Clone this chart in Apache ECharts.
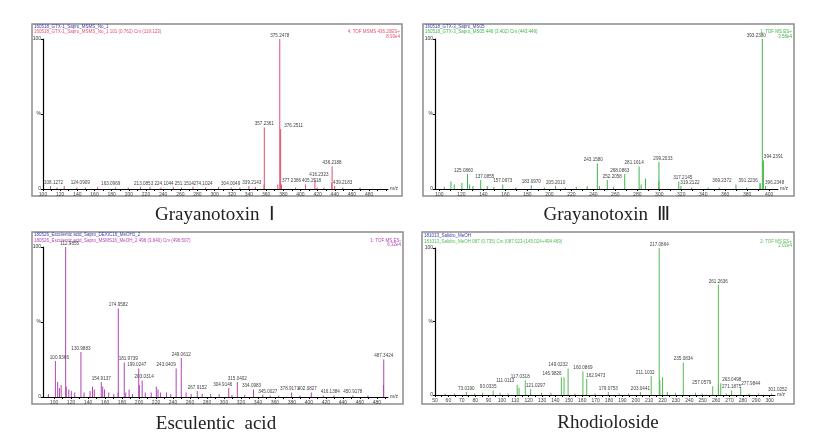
<!DOCTYPE html>
<html><head><meta charset="utf-8">
<script src="https://cdn.jsdelivr.net/npm/echarts@6/dist/echarts.min.js"></script>
<style>html,body{margin:0;padding:0;background:#fff}#c{width:831px;height:437px}</style>
</head><body><div id="c"></div>
<script>
// ---------- Data (m/z, relative intensity %) ----------
// Panel 1: Grayanotoxin I
const gtx1LabeledMz  = [108.1272, 124.0909, 163.0969, 213.0853, 224.1044, 251.1514, 274.1024, 304.0049, 339.2143, 357.2361, 375.2478, 376.2511, 377.2386, 405.2518, 416.2323, 436.2188, 439.2183];
const gtx1LabeledInt = [2, 2, 1.5, 1.5, 1.5, 1.5, 1.5, 1.5, 2, 41, 100, 40, 3, 3, 6, 15, 2];
const gtx1MinorMz    = [117, 140, 150, 185, 200, 238, 262, 290, 320, 330, 348, 358.2, 374.2, 378.5, 395, 420, 428, 437.2, 450, 470];
const gtx1MinorInt   = [1, 1, 1, 1, 1, 1, 1, 1, 1, 1, 1.5, 3, 3, 1.5, 1, 1, 1, 4, 1, 1];
const gtx1Ticks      = [100,120,140,160,180,200,220,240,260,280,300,320,340,360,380,400,420,440,460,480];

// Panel 2: Grayanotoxin III
const gtx3LabeledMz  = [125.0860, 137.0855, 157.0973, 183.0970, 205.2010, 243.1580, 252.2058, 268.0863, 281.1614, 299.2033, 317.2145, 319.2122, 369.2372, 391.2236, 393.2380, 394.2391, 396.2348];
const gtx3LabeledInt = [10, 6, 3, 2.5, 2, 17, 6, 10, 15, 18, 5, 2, 3, 3, 100, 19, 2];
const gtx3MinorMz    = [105, 111, 114, 121, 128, 131, 144, 150, 170, 196, 215, 225, 235, 246, 259, 284, 288, 300.2, 330, 345, 355, 380, 392.2];
const gtx3MinorInt   = [1.5, 5, 3, 4, 3, 2, 2, 1.5, 1, 1, 1, 1.5, 2, 2, 1.5, 3, 7, 5, 1, 1, 1, 1, 4];
const gtx3Ticks      = [100,120,140,160,180,200,220,240,260,280,300,320,340,360,380,400];

// Panel 3: Esculentic acid
const escLabeledMz   = [100.9366, 112.9855, 130.9883, 154.9137, 174.9582, 181.9739, 199.0247, 203.0314, 243.0409, 249.0612, 267.9152, 304.9146, 315.0402, 334.0983, 345.0027, 378.9171, 402.0827, 416.1384, 450.9178, 487.3424];
const escLabeledInt  = [24, 100, 30, 10, 59, 23, 19, 11, 19, 26, 4, 6, 10, 5, 1.5, 3, 3, 1, 1, 25];
const escMinorMz     = [94, 104.9, 107, 109, 115, 118, 121, 125, 136, 143, 145.9, 148, 157.9, 160, 165, 171, 176, 185, 189, 193, 201, 208, 215, 221, 223, 226, 233, 238, 256, 262, 275, 285, 295, 310, 325, 355, 365, 390, 430, 470, 488.3];
const escMinorInt    = [2, 10, 6, 8, 7, 5, 4, 3, 3, 4, 7, 5, 7, 5, 3, 2, 3, 3, 5, 2, 8, 3, 3, 7, 5, 3, 3, 2, 3, 2, 2, 2, 2, 1.5, 1.5, 1, 1, 1, 1, 1, 8];
const escTicks       = [100,120,140,160,180,200,220,240,260,280,300,320,340,360,380,400,420,440,460,480];

// Panel 4: Rhodioloside
const rhoLabeledMz   = [73.0190, 93.0335, 111.0113, 117.0318, 121.0297, 145.9826, 149.0232, 160.0869, 162.9473, 179.0753, 203.0441, 211.1032, 217.0864, 235.0834, 257.0579, 261.2636, 263.0498, 271.1875, 277.9844, 301.0252];
const rhoLabeledInt  = [2, 3, 7, 10, 4, 12, 18, 16, 11, 2, 2, 13, 100, 22, 6, 75, 8, 3, 5, 1];
const rhoMinorMz     = [58, 65, 80, 86, 99, 105, 113.2, 130, 137, 144.8, 155, 170, 188, 195, 218.4, 220.4, 224, 230, 245, 250, 262.2, 268, 285, 292];
const rhoMinorInt    = [1, 1, 1, 1.5, 1.5, 1, 5, 1.5, 1.5, 12, 1, 1, 1, 1, 10, 12, 2, 1.5, 1.5, 1, 7, 1, 1, 1];
const rhoTicks       = [50,60,70,80,90,100,110,120,130,140,150,160,170,180,190,200,210,220,230,240,250,260,270,280,290,300];

const captions = ['Grayanotoxin  Ⅰ', 'Grayanotoxin  Ⅲ', 'Esculentic  acid', 'Rhodioloside'];

// ---------- Layout / style ----------
const panels = [
  {lm: gtx1LabeledMz, li: gtx1LabeledInt, mm: gtx1MinorMz, mi: gtx1MinorInt, ticks: gtx1Ticks,
   grid: {left: 43, top: 39, width: 345, height: 150}, min: 100, max: 502, color: '#e2506e',
   offsets: {0: [3, 0], 1: [16, 0], 2: [13, 0], 3: [3, 0], 4: [14, 0], 5: [11, 0], 6: [10, 0], 7: [12, 0], 8: [3, 0],
             11: [13, 0], 12: [10, 0], 13: [6, 0], 14: [4, -2], 16: [8, 0]}},
  {lm: gtx3LabeledMz, li: gtx3LabeledInt, mm: gtx3MinorMz, mi: gtx3MinorInt, ticks: gtx3Ticks,
   grid: {left: 435, top: 39, width: 343, height: 150}, min: 96, max: 408, color: '#3db54a',
   offsets: {0: [-4, 0], 1: [4, 0], 5: [-4, 0], 6: [5, 0], 7: [-5, 0], 8: [-5, 0], 9: [4, 0], 10: [4, 0], 11: [9, 0],
             12: [-14, 0], 13: [-12, 0], 14: [-6, 0], 15: [10, 0], 16: [9, 0]}},
  {lm: escLabeledMz, li: escLabeledInt, mm: escMinorMz, mi: escMinorInt, ticks: escTicks,
   grid: {left: 43, top: 247, width: 345, height: 150}, min: 87, max: 493, color: '#b345b3',
   offsets: {0: [4, 0], 1: [4, 0], 5: [4, 0], 6: [-2, 0], 7: [2, 0], 8: [-10, 0], 11: [-6, 0], 13: [-2, 0], 14: [5, 0],
             15: [-2, 0], 16: [-4, 0], 17: [7, 0]}},
  {lm: rhoLabeledMz, li: rhoLabeledInt, mm: rhoMinorMz, mi: rhoMinorInt, ticks: rhoTicks,
   grid: {left: 435, top: 248, width: 340, height: 147}, min: 50, max: 304, color: '#55bb55',
   offsets: {1: [-5, 0], 2: [-12, 0], 3: [-5, 0], 4: [5, 0], 5: [-12, 0], 6: [-10, 0], 8: [9, 0], 11: [-6, 0],
             14: [-11, 0], 16: [11, 0], 18: [10, 0], 19: [6, 0]}}
];

const grids = [], xAxes = [], yAxes = [], series = [];
const minorTickVals = (p) => { const out = []; for (let v = p.ticks[0]; v <= p.max; v += (p.ticks[1]-p.ticks[0])/2) out.push(v); return out; };
panels.forEach((p, i) => {
  grids.push(Object.assign({containLabel: false}, p.grid));
  xAxes.push({
    type: 'value', gridIndex: i, min: p.min, max: p.max, name: 'm/z', nameLocation: 'end', nameGap: 2,
    nameTextStyle: {fontSize: 5, color: '#333'},
    axisLine: {show: true, lineStyle: {color: '#000', width: 1}},
    axisTick: {show: true, length: 2, lineStyle: {color: '#000'}, customValues: minorTickVals(p)},
    axisLabel: {fontSize: 5, color: '#444', margin: 3, customValues: p.ticks},
    splitLine: {show: false}
  });
  yAxes.push({
    type: 'value', gridIndex: i, min: 0, max: 100, interval: 50,
    axisLine: {show: true, lineStyle: {color: '#000', width: 1.2}},
    axisTick: {show: true, length: 2, lineStyle: {color: '#000'}},
    axisLabel: {fontSize: 5, color: '#333', margin: 2, formatter: v => v === 50 ? '%' : String(v)},
    splitLine: {show: false}
  });
  series.push({
    type: 'bar', xAxisIndex: i, yAxisIndex: i, barWidth: 1, silent: true, animation: false,
    itemStyle: {color: p.color},
    data: p.mm.map((m, k) => [m, p.mi[k]])
  });
  series.push({
    type: 'bar', xAxisIndex: i, yAxisIndex: i, barWidth: 1, silent: true, animation: false,
    itemStyle: {color: p.color},
    label: {show: true, position: 'top', distance: 1, fontSize: 4.6, color: '#444',
            formatter: q => q.value[0].toFixed(4)},
    data: p.lm.map((m, k) => {
      const d = {value: [m, p.li[k]]};
      if (p.offsets[k]) d.label = {offset: p.offsets[k]};
      return d;
    })
  });
});

const hdr = (x, y, txt, col, align) => ({type: 'text', left: align === 'right' ? undefined : x, right: align === 'right' ? 831 - x : undefined, top: y,
  style: {text: txt, fontSize: 4.5, fill: col, fontFamily: 'Arial'}});
const box = (x, y, w, h) => ({type: 'rect', shape: {x, y, width: w, height: h}, style: {fill: 'none', stroke: '#8c8c8c', lineWidth: 1.5}});
const cap = (cx, cy, txt) => ({type: 'text', x: cx, y: cy, style: {text: txt, fontSize: 19, fill: '#222', fontFamily: 'Liberation Serif, Times New Roman, serif', align: 'center', verticalAlign: 'middle'}});

const graphic = [
  box(32, 24, 370, 172), box(423, 24, 371, 172), box(32, 232, 371, 172), box(422, 232, 372, 172),
  hdr(34, 24.5, '160518_GTX-1_Sapro_MSMS_No_1', '#3c3ca8'),
  hdr(34, 29.5, '160518_GTX-1_Sapro_MSMS_No_1 101 (0.762) Cm (119:123)', '#e2506e'),
  hdr(400, 29.5, '4: TOF MSMS 436.20ES+', '#e2506e', 'right'),
  hdr(400, 34, '8.93e4', '#e2506e', 'right'),
  hdr(425, 24.5, '160518_GTX-3_Sapro_MS05', '#3c3ca8'),
  hdr(425, 29.5, '160518_GTX-3_Sapro_MS05 446 (3.402) Cm (443:449)', '#3db54a'),
  hdr(792, 29.5, '1: TOF MS ES+', '#3db54a', 'right'),
  hdr(792, 34, '3.58e4', '#3db54a', 'right'),
  hdr(34, 232.5, '180526_Esculentic acid_Sapro_DEXIC16_MeOH1_2', '#3c3ca8'),
  hdr(34, 238, '180526_Esculentic acid_Sapro_MSMS16_MeOH_2 496 (3.640) Cm (496:507)', '#b345b3'),
  hdr(401, 238, '1: TOF MS ES-', '#b345b3', 'right'),
  hdr(401, 242.5, '6.32e4', '#b345b3', 'right'),
  hdr(424, 233, '181013_Salidro_MeOH', '#3c3ca8'),
  hdr(424, 239, '181013_Salidro_MeOH 087 (0.735) Cm (087:023-(145:024+494:469)', '#55bb55'),
  hdr(792, 239, '2: TOF MS ES+', '#55bb55', 'right'),
  hdr(792, 243.5, '2.02e4', '#55bb55', 'right'),
  cap(215, 215, captions[0]), cap(607, 215, captions[1]),
  cap(216, 424, captions[2]), cap(608, 423, captions[3])
];

const chart = echarts.init(document.getElementById('c'), null, {renderer: 'canvas'});
chart.setOption({animation: false, backgroundColor: '#fff', grid: grids, xAxis: xAxes, yAxis: yAxes, series, graphic});
</script></body></html>
